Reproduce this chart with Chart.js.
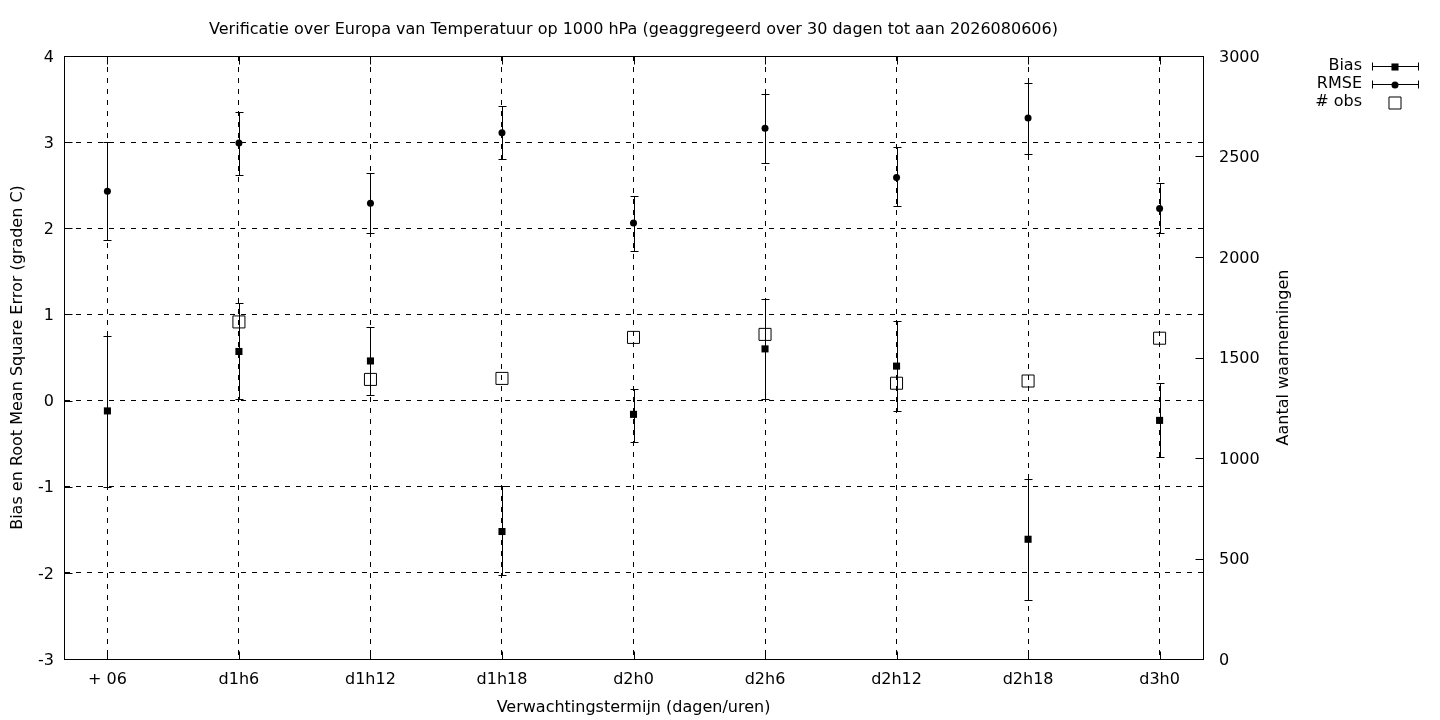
<!DOCTYPE html>
<html>
<head>
<meta charset="utf-8">
<title>Verificatie Temperatuur 1000 hPa</title>
<script src="https://cdn.jsdelivr.net/npm/chart.js@4.4.1/dist/chart.umd.min.js"></script>
<style>
    html, body { margin: 0; padding: 0; background: #fff; }
    #wrap { width: 1440px; height: 720px; }
</style>
</head>
<body>
<div id="wrap"><canvas id="verifChart" width="1440" height="720"></canvas></div>
<script>
// Forecast lead times (x categories)
const categories = ['+ 06', 'd1h6', 'd1h12', 'd1h18', 'd2h0', 'd2h6', 'd2h12', 'd2h18', 'd3h0'];

// Bias with error bar range
const biasValues = [-0.12, 0.57, 0.46, -1.52, -0.16, 0.60, 0.40, -1.61, -0.23];
const biasLow    = [-1.00, 0.02, 0.06, -2.03, -0.48, 0.02, -0.12, -2.31, -0.65];
const biasHigh   = [0.75, 1.13, 0.85, -0.99, 0.14, 1.18, 0.92, -0.91, 0.20];

// RMSE with error bar range
const rmseValues = [2.43, 2.99, 2.29, 3.11, 2.06, 3.16, 2.59, 3.28, 2.23];
const rmseLow    = [1.86, 2.62, 1.94, 2.81, 1.74, 2.76, 2.26, 2.86, 1.95];
const rmseHigh   = [3.00, 3.35, 2.64, 3.42, 2.37, 3.56, 2.94, 3.69, 2.52];

// Number of observations (right axis)
const obsCounts = [null, 1677, 1391, 1396, 1600, 1615, 1372, 1383, 1596];

const FONT = 'DejaVu Sans';
const FONT_SIZE = 16;
const GRID_DASH = [5, 6];

function toPoints(values) {
    return values.map((v, i) => ({ x: i, y: v }));
}

// Error bars, frame, inward ticks, legend and right axis title
const gnuplotLook = {
    id: 'gnuplotLook',
    afterDatasetsDraw(chart) {
        const ctx = chart.ctx;
        chart.data.datasets.forEach((ds, di) => {
            if (!ds.errLow) return;
            const meta = chart.getDatasetMeta(di);
            const yScale = chart.scales[ds.yAxisID || 'y'];
            ctx.save();
            ctx.strokeStyle = '#000';
            ctx.lineWidth = 1;
            meta.data.forEach((pt, i) => {
                if (ds.errLow[i] == null) return;
                const x = Math.round(pt.x) + 0.5;
                const lo = Math.round(yScale.getPixelForValue(ds.errLow[i])) + 0.5;
                const hi = Math.round(yScale.getPixelForValue(ds.errHigh[i])) + 0.5;
                ctx.beginPath();
                ctx.moveTo(x, lo);
                ctx.lineTo(x, hi);
                ctx.moveTo(x - 4, lo);
                ctx.lineTo(x + 4, lo);
                ctx.moveTo(x - 4, hi);
                ctx.lineTo(x + 4, hi);
                ctx.stroke();
            });
            ctx.restore();
        });
    },
    afterDraw(chart) {
        const ctx = chart.ctx;
        const a = chart.chartArea;
        const l = Math.round(a.left) + 0.5, r = Math.round(a.right) + 0.5;
        const t = Math.round(a.top) + 0.5, b = Math.round(a.bottom) + 0.5;
        ctx.save();
        ctx.strokeStyle = '#000';
        ctx.lineWidth = 1;
        ctx.setLineDash([]);
        ctx.strokeRect(l, t, r - l, b - t);

        // inward ticks
        ctx.beginPath();
        chart.scales.x.ticks.forEach(tk => {
            const x = Math.round(chart.scales.x.getPixelForValue(tk.value)) + 0.5;
            ctx.moveTo(x, b); ctx.lineTo(x, b - 8);
            ctx.moveTo(x, t); ctx.lineTo(x, t + 8);
        });
        chart.scales.y.ticks.forEach(tk => {
            const y = Math.round(chart.scales.y.getPixelForValue(tk.value)) + 0.5;
            ctx.moveTo(l, y); ctx.lineTo(l + 8, y);
        });
        chart.scales.y2.ticks.forEach(tk => {
            const y = Math.round(chart.scales.y2.getPixelForValue(tk.value)) + 0.5;
            ctx.moveTo(r, y); ctx.lineTo(r - 8, y);
        });
        ctx.stroke();

        // right axis title, reading bottom to top
        ctx.fillStyle = '#000';
        ctx.font = FONT_SIZE + 'px "' + FONT + '"';
        ctx.textAlign = 'center';
        ctx.textBaseline = 'middle';
        ctx.save();
        ctx.translate(1284, (a.top + a.bottom) / 2);
        ctx.rotate(-Math.PI / 2);
        ctx.fillText('Aantal waarnemingen', 0, 0);
        ctx.restore();

        // legend
        const rows = [66, 84, 102];
        const sx1 = 1372, sx2 = 1419, mx = 1395;
        chart.data.datasets.forEach((ds, di) => {
            const y = rows[di];
            const py = Math.round(y) + 0.5;
            ctx.fillStyle = '#000';
            ctx.strokeStyle = '#000';
            ctx.textAlign = 'right';
            ctx.fillText(ds.label, 1362, y);
            if (ds.errLow) {
                ctx.beginPath();
                ctx.moveTo(sx1, py); ctx.lineTo(sx2, py);
                ctx.moveTo(sx1 + 0.5, py - 4); ctx.lineTo(sx1 + 0.5, py + 4);
                ctx.moveTo(sx2 - 0.5, py - 4); ctx.lineTo(sx2 - 0.5, py + 4);
                ctx.stroke();
            }
            ctx.fillStyle = ds.pointBackgroundColor;
            ctx.strokeStyle = ds.pointBorderColor;
            ctx.lineWidth = 1;
            Chart.helpers.drawPoint(ctx, {
                pointStyle: ds.pointStyle,
                radius: ds.pointRadius,
                borderWidth: ds.pointBorderWidth,
                rotation: 0
            }, mx, y + 1);
        });
        ctx.restore();
    }
};

new Chart(document.getElementById('verifChart'), {
    type: 'line',
    data: {
        datasets: [
            {
                label: 'Bias',
                data: toPoints(biasValues),
                errLow: biasLow,
                errHigh: biasHigh,
                showLine: false,
                pointStyle: 'rect',
                pointRadius: 5,
                pointBackgroundColor: '#000',
                pointBorderColor: '#000',
                pointBorderWidth: 0,
                yAxisID: 'y'
            },
            {
                label: 'RMSE',
                data: toPoints(rmseValues),
                errLow: rmseLow,
                errHigh: rmseHigh,
                showLine: false,
                pointStyle: 'circle',
                pointRadius: 3.5,
                pointBackgroundColor: '#000',
                pointBorderColor: '#000',
                pointBorderWidth: 0,
                yAxisID: 'y'
            },
            {
                label: '# obs',
                data: toPoints(obsCounts),
                showLine: false,
                pointStyle: 'rect',
                pointRadius: 8.5,
                pointBackgroundColor: 'rgba(0,0,0,0)',
                pointBorderColor: '#000',
                pointBorderWidth: 1,
                yAxisID: 'y2'
            }
        ]
    },
    options: {
        responsive: false,
        animation: false,
        events: [],
        layout: { padding: { left: 0, right: 173, top: 0, bottom: 0 } },
        plugins: {
            legend: { display: false },
            tooltip: { enabled: false },
            title: {
                display: true,
                text: 'Verificatie over Europa van Temperatuur op 1000 hPa (geaggregeerd over 30 dagen tot aan 2026080606)',
                color: '#000',
                font: { family: FONT, size: FONT_SIZE, weight: 'normal' },
                padding: { top: 20, bottom: 16.8 }
            }
        },
        scales: {
            x: {
                type: 'linear',
                position: 'bottom',
                min: -0.33,
                max: 8.33,
                afterBuildTicks: scale => {
                    scale.ticks = categories.map((c, i) => ({ value: i }));
                },
                afterFit: scale => { scale.height = 61; },
                ticks: {
                    autoSkip: false,
                    maxRotation: 0,
                    color: '#000',
                    padding: 11,
                    font: { family: FONT, size: FONT_SIZE },
                    callback: value => categories[value]
                },
                grid: { color: '#000', lineWidth: 1, drawTicks: false },
                border: { display: true, color: '#000', width: 1, dash: GRID_DASH },
                title: {
                    display: true,
                    text: 'Verwachtingstermijn (dagen/uren)',
                    color: '#000',
                    font: { family: FONT, size: FONT_SIZE },
                    padding: { top: 0, bottom: 3 }
                }
            },
            y: {
                type: 'linear',
                position: 'left',
                min: -3,
                max: 4,
                afterFit: scale => { scale.width = 64; },
                ticks: {
                    stepSize: 1,
                    color: '#000',
                    padding: 10,
                    labelOffset: 1.5,
                    font: { family: FONT, size: FONT_SIZE }
                },
                grid: { color: '#000', lineWidth: 1, drawTicks: false },
                border: { display: true, color: '#000', width: 1, dash: GRID_DASH },
                title: {
                    display: true,
                    text: 'Bias en Root Mean Square Error (graden C)',
                    color: '#000',
                    font: { family: FONT, size: FONT_SIZE },
                    padding: { top: 8.4, bottom: 0 }
                }
            },
            y2: {
                type: 'linear',
                position: 'right',
                min: 0,
                max: 3000,
                afterFit: scale => { scale.width = 64; },
                ticks: {
                    stepSize: 500,
                    color: '#000',
                    padding: 16,
                    labelOffset: 1.5,
                    font: { family: FONT, size: FONT_SIZE },
                    callback: value => String(value)
                },
                grid: { drawOnChartArea: false, drawTicks: false },
                border: { display: true, color: '#000', width: 1 }
            }
        }
    },
    plugins: [gnuplotLook]
});
</script>
</body>
</html>
